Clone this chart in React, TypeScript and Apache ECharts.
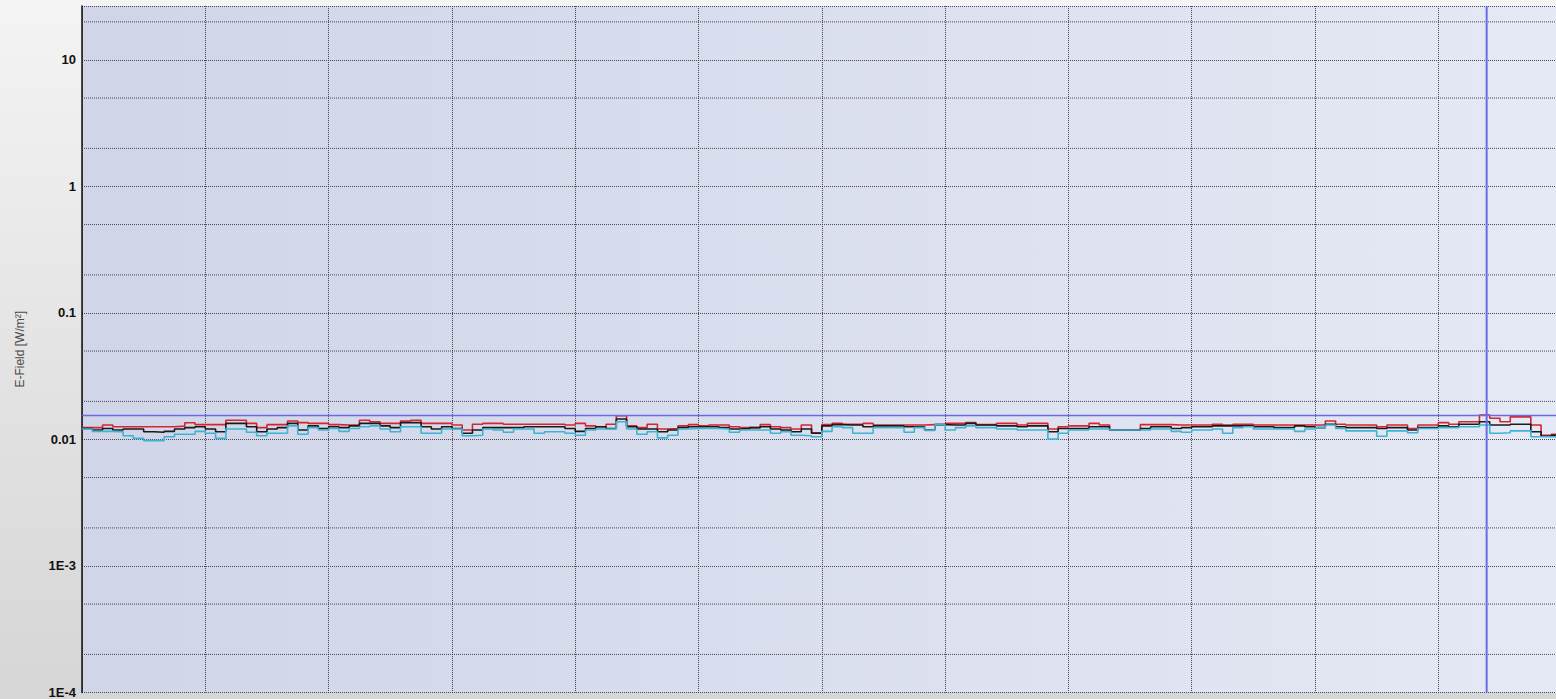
import React, { useEffect, useRef } from "react";
import * as echarts from "echarts";

// Max (red), average (black) and min (cyan) values per time step
const RED_MAX = [
  0.0124, 0.0124, 0.0130, 0.0126, 0.0126, 0.0126, 0.0126, 0.0126, 0.0126, 0.01275, 0.01355, 0.0131,
  0.0131, 0.0131, 0.0142, 0.0142, 0.0134, 0.0124, 0.0131, 0.0131, 0.0140, 0.0136, 0.0134, 0.0134,
  0.0131, 0.0130, 0.0130, 0.0142, 0.0138, 0.0134, 0.0134, 0.0140, 0.0142, 0.0134, 0.0134, 0.0134,
  0.0130, 0.0119, 0.0132, 0.0134, 0.0134, 0.0132, 0.0132, 0.0132, 0.0132, 0.0132, 0.0132, 0.0130,
  0.0134, 0.0128, 0.0126, 0.0132, 0.0154, 0.0128, 0.0124, 0.0132, 0.0121, 0.0122, 0.0128, 0.0131,
  0.0128, 0.0130, 0.0130, 0.0126, 0.0124, 0.0124, 0.0131, 0.0126, 0.0124, 0.0121, 0.0130, 0.0113,
  0.0131, 0.0134, 0.0132, 0.0132, 0.0134, 0.0130, 0.0130, 0.0130, 0.0130, 0.0130, 0.0131, 0.0131,
  0.0134, 0.0134, 0.0136, 0.0131, 0.0131, 0.0134, 0.0134, 0.0130, 0.0134, 0.0134, 0.0121, 0.0126,
  0.0128, 0.0128, 0.0134, 0.0130, 0.0119, 0.0119, 0.0119, 0.0131, 0.0131, 0.0131, 0.0130, 0.0130,
  0.0130, 0.0130, 0.0132, 0.0130, 0.0132, 0.0132, 0.0130, 0.0130, 0.0130, 0.0130, 0.0130, 0.0130,
  0.0130, 0.0140, 0.0132, 0.0130, 0.0130, 0.0130, 0.0126, 0.0130, 0.0130, 0.0122, 0.0130, 0.0130,
  0.0136, 0.0132, 0.0138, 0.0138, 0.0156, 0.0147, 0.0138, 0.0151, 0.0151, 0.0130, 0.0108, 0.0110,
];

const BLACK_AVG = [
  0.0122, 0.0119, 0.0122, 0.0119, 0.0121, 0.0121, 0.0115, 0.0114, 0.0116, 0.0121, 0.0124, 0.0126,
  0.0121, 0.0115, 0.0134, 0.0134, 0.0126, 0.0115, 0.0121, 0.0124, 0.0134, 0.0119, 0.0128, 0.0122,
  0.0126, 0.0124, 0.0128, 0.0134, 0.0134, 0.0128, 0.0124, 0.0136, 0.0136, 0.0126, 0.0121, 0.0126,
  0.0122, 0.0112, 0.0119, 0.0124, 0.0124, 0.0124, 0.0124, 0.0126, 0.0126, 0.0126, 0.0126, 0.0122,
  0.0116, 0.0122, 0.0126, 0.0122, 0.0145, 0.0126, 0.0121, 0.0121, 0.0115, 0.0119, 0.0124, 0.0126,
  0.0126, 0.0126, 0.0124, 0.0121, 0.0122, 0.0124, 0.0126, 0.0121, 0.0119, 0.0115, 0.0121, 0.0112,
  0.0128, 0.0131, 0.0130, 0.0130, 0.0126, 0.0128, 0.0128, 0.0128, 0.0126, 0.0126, 0.0119, 0.0131,
  0.0130, 0.0130, 0.0134, 0.0130, 0.0130, 0.0128, 0.0128, 0.0126, 0.0128, 0.0128, 0.0115, 0.0122,
  0.0122, 0.0122, 0.0126, 0.0126, 0.0119, 0.0119, 0.0119, 0.0122, 0.0126, 0.0126, 0.0122, 0.0124,
  0.0126, 0.0126, 0.0128, 0.0128, 0.0128, 0.0128, 0.0126, 0.0126, 0.0124, 0.0124, 0.0128, 0.0126,
  0.0124, 0.0132, 0.0126, 0.0124, 0.0124, 0.0124, 0.0122, 0.0124, 0.0124, 0.0119, 0.0124, 0.0124,
  0.0128, 0.0126, 0.0132, 0.0132, 0.0138, 0.0130, 0.0130, 0.0132, 0.0132, 0.0115, 0.0106, 0.0108,
];

const CYAN_MIN = [
  0.0121, 0.0116, 0.0116, 0.0115, 0.0107, 0.0102, 0.0098, 0.0098, 0.0105, 0.0110, 0.0110, 0.0116,
  0.0112, 0.0102, 0.0121, 0.0121, 0.0114, 0.0107, 0.0112, 0.0112, 0.0128, 0.0110, 0.0124, 0.0119,
  0.0122, 0.0116, 0.0122, 0.0126, 0.0128, 0.0121, 0.0115, 0.0126, 0.0126, 0.0112, 0.0112, 0.0121,
  0.0121, 0.0107, 0.0108, 0.0121, 0.0119, 0.0114, 0.0121, 0.0121, 0.0112, 0.0115, 0.0115, 0.0112,
  0.0108, 0.0119, 0.0121, 0.0121, 0.0138, 0.0121, 0.0110, 0.0115, 0.0103, 0.0108, 0.0121, 0.0122,
  0.0122, 0.0122, 0.0121, 0.0114, 0.0119, 0.0119, 0.0119, 0.0112, 0.0115, 0.0108, 0.0107, 0.0105,
  0.0116, 0.0126, 0.0124, 0.0112, 0.0112, 0.0124, 0.0124, 0.0124, 0.0114, 0.0124, 0.0118, 0.0131,
  0.0119, 0.0124, 0.0128, 0.0124, 0.0124, 0.0121, 0.0121, 0.0119, 0.0119, 0.0119, 0.0101, 0.0112,
  0.0119, 0.0119, 0.0121, 0.0121, 0.0119, 0.0119, 0.0119, 0.0119, 0.0121, 0.0121, 0.0116, 0.0114,
  0.0119, 0.0119, 0.0121, 0.0112, 0.0124, 0.0126, 0.0121, 0.0121, 0.0121, 0.0121, 0.0116, 0.0121,
  0.0124, 0.0130, 0.0122, 0.0117, 0.0117, 0.0117, 0.0106, 0.0117, 0.0117, 0.0113, 0.0122, 0.0122,
  0.0124, 0.0124, 0.0126, 0.0126, 0.0130, 0.0112, 0.0113, 0.0117, 0.0117, 0.0105, 0.0105, 0.0105,
];

const Y_TICK_VALUES = [0.0001, 0.001, 0.01, 0.1, 1, 10];
const Y_TICK_LABELS = ["1E-4", "1E-3", "0.01", "0.1", "1", "10"];
const Y_MINOR_LINES = [0.0002, 0.0005, 0.002, 0.005, 0.02, 0.05, 0.2, 0.5, 2, 5, 20];
const Y_MIN = 0.0001;
const Y_MAX = 26.7;
const X_MIN = 0;
const X_MAX = 143.45;
const X_GRID_STEP = 12;
const THRESHOLD = 0.0155;
const CURSOR_X = 136.7;
const Y_NAME = "E-Field [W/m²]";

const FONT = "'Liberation Sans', Arial, sans-serif";
const DOT_STYLE = { color: "#363644", width: 1, type: [1, 1] as number[], opacity: 0.9 };
const BLUE = "#6a6ae6";

function toSteps(values: number[]) {
  const pts: number[][] = values.map((v, i) => [i, v]);
  pts.push([values.length, values[values.length - 1]]);
  return pts;
}

function yLabel(v: number) {
  for (let k = 0; k < Y_TICK_VALUES.length; k++) {
    if (Math.abs(Math.log10(v) - Math.log10(Y_TICK_VALUES[k])) < 0.01) return Y_TICK_LABELS[k];
  }
  return "";
}

function stepSeries(name: string, values: number[], color: string, z: number) {
  return {
    name,
    type: "line",
    step: "end",
    data: toSteps(values),
    showSymbol: false,
    symbol: "none",
    z,
    lineStyle: { color, width: 1.6 },
    emphasis: { disabled: true },
    silent: true,
  };
}

function straightSeries(name: string, data: number[][], lineStyle: any, z: number) {
  return {
    name,
    type: "line",
    data,
    showSymbol: false,
    symbol: "none",
    z,
    lineStyle,
    emphasis: { disabled: true },
    silent: true,
  };
}

export default function App() {
  const ref = useRef<HTMLDivElement>(null);
  useEffect(() => {
    document.body.style.margin = "0";
    const chart = echarts.init(ref.current!, undefined, { renderer: "svg" });
    const minorSeries = Y_MINOR_LINES.map((v, k) =>
      straightSeries("minor" + k, [[X_MIN, v], [X_MAX, v]], DOT_STYLE, 1)
    );
    const option: any = {
      animation: false,
      backgroundColor: "transparent",
      grid: {
        left: 82,
        right: 0,
        top: 6,
        bottom: 3.5,
        show: true,
        borderWidth: 0,
        backgroundColor: new echarts.graphic.LinearGradient(0, 0, 1, 0, [
          { offset: 0, color: "#d0d5e8" },
          { offset: 1, color: "#e5e9f5" },
        ]),
      },
      xAxis: {
        type: "value",
        min: X_MIN,
        max: X_MAX,
        interval: X_GRID_STEP,
        axisLine: { show: false },
        axisTick: { show: false },
        axisLabel: { show: false },
        splitLine: { show: true, lineStyle: DOT_STYLE },
      },
      yAxis: {
        type: "log",
        logBase: 10,
        min: Y_MIN,
        max: Y_MAX,
        name: Y_NAME,
        nameLocation: "middle",
        nameRotate: 90,
        nameGap: 56,
        nameTextStyle: { fontFamily: FONT, fontSize: 12, color: "#4a4a4a" },
        axisLine: { show: true, onZero: false, lineStyle: { color: "#111", width: 1.5 } },
        axisTick: { show: false },
        axisLabel: {
          formatter: yLabel,
          fontFamily: FONT,
          fontSize: 13,
          fontWeight: "bold",
          color: "#111",
          margin: 6,
          showMaxLabel: false,
        },
        splitLine: { show: true, lineStyle: DOT_STYLE },
      },
      series: [
        ...minorSeries,
        stepSeries("Max", RED_MAX, "#d8242e", 3),
        stepSeries("Avg", BLACK_AVG, "#1a1a1a", 4),
        stepSeries("Min", CYAN_MIN, "#3cb4d4", 5),
        straightSeries("Threshold", [[X_MIN, THRESHOLD], [X_MAX, THRESHOLD]], { color: BLUE, width: 1.5 }, 6),
        straightSeries("Cursor", [[CURSOR_X, Y_MIN], [CURSOR_X, Y_MAX]], { color: BLUE, width: 2 }, 6),
      ],
    };
    chart.setOption(option);
    return () => chart.dispose();
  }, []);
  return (
    <div
      ref={ref}
      style={{
        position: "fixed",
        left: 0,
        top: 0,
        width: 1556,
        height: 699,
        background: "linear-gradient(to bottom, #f4f4f4 0%, #e4e4e4 50%, #d6d6d6 100%)",
      }}
    />
  );
}
